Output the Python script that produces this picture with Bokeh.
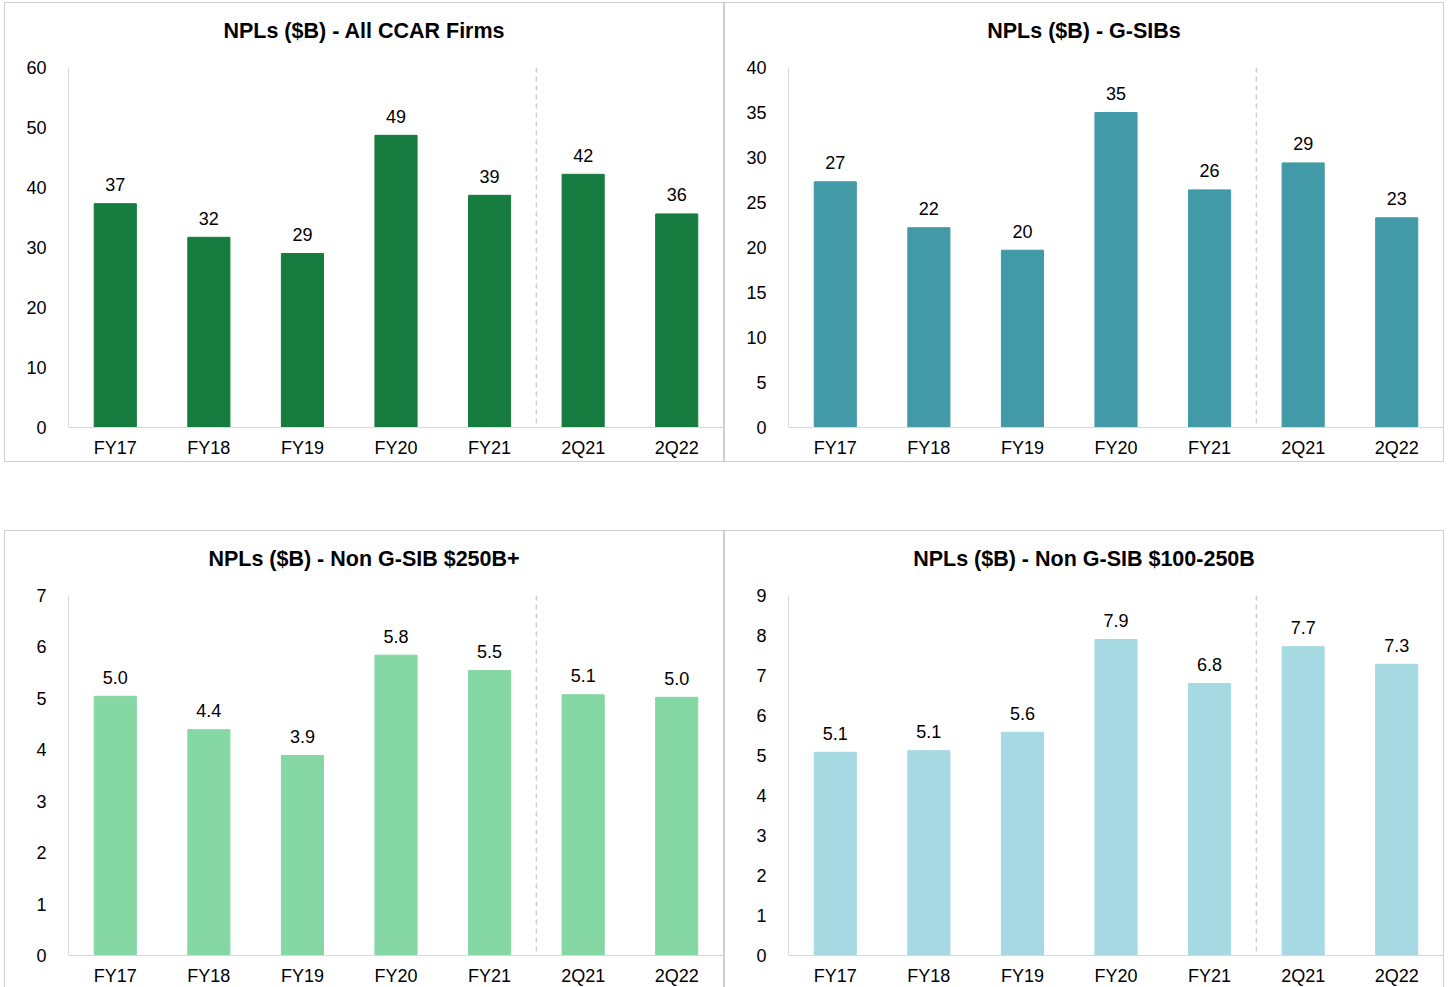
from bokeh.plotting import figure
from bokeh.models import Range1d, FactorRange, FixedTicker, Span, ColumnDataSource, Div
from bokeh.layouts import column, row
from bokeh.core.properties import value
from bokeh.embed import file_html
from bokeh.resources import INLINE

categories = ["FY17", "FY18", "FY19", "FY20", "FY21", "2Q21", "2Q22"]
ccar_values = [37.3, 31.7, 29.0, 48.7, 38.7, 42.2, 35.6]
gsib_values = [27.3, 22.2, 19.7, 35.0, 26.4, 29.4, 23.3]
non_gsib_250_values = [5.04, 4.39, 3.89, 5.84, 5.54, 5.07, 5.02]
non_gsib_100_values = [5.08, 5.12, 5.58, 7.90, 6.80, 7.72, 7.28]
titles = ["NPLs ($B) - All CCAR Firms", "NPLs ($B) - G-SIBs",
          "NPLs ($B) - Non G-SIB $250B+", "NPLs ($B) - Non G-SIB $100-250B"]
y_max = [60, 40, 7, 9]
y_step = [10, 5, 1, 1]
label_formats = ["{:.0f}", "{:.0f}", "{:.1f}", "{:.1f}"]
colors = ["#167B3E", "#4299A8", "#85D7A3", "#A6D9E2"]
split_at = "2Q21"

FONT = value("Liberation Sans")
GRAY = "#d9d9d9"
W, H = 718, 458
TITLE_H = 45
BL, BR, BT, BB = 63, 0, 64 - TITLE_H, 34


def panel(title, vals, ymax, step, fmt, color):
    labels = [fmt.format(v) for v in vals]
    src = ColumnDataSource(dict(cat=categories, val=vals, lab=labels))
    head = Div(text=title, width=W, height=TITLE_H, margin=0,
               styles={"font-family": "'Liberation Sans', Arial, sans-serif",
                       "font-size": "21.5px", "font-weight": "bold",
                       "color": "#000000", "text-align": "center",
                       "line-height": "56px", "white-space": "nowrap",
                       "overflow": "visible"})
    p = figure(x_range=FactorRange(*categories, range_padding=0),
               y_range=Range1d(0, ymax), width=W, height=H - TITLE_H,
               title=None, output_backend="svg", toolbar_location=None,
               min_border_left=BL, min_border_right=BR,
               min_border_top=BT, min_border_bottom=BB, margin=0)
    p.outline_line_color = None
    p.xgrid.grid_line_color = None
    p.ygrid.grid_line_color = None

    p.vbar(x="cat", top="val", width=0.45, color=color, source=src)
    p.text(x="cat", y="val", text="lab", source=src, text_align="center",
           text_baseline="alphabetic", y_offset=-19, text_font=FONT,
           text_font_size="18px", text_color="#000000")
    p.add_layout(Span(location=categories.index(split_at), dimension="height",
                      line_color="#cccccc", line_dash="5 4", line_width=1.5))

    ticks = [i * step for i in range(int(ymax / step) + 1)]
    p.yaxis.ticker = FixedTicker(ticks=ticks)
    for ax in (p.xaxis, p.yaxis):
        ax.axis_line_color = GRAY
        ax.major_tick_line_color = None
        ax.minor_tick_line_color = None
        ax.major_tick_out = 0
        ax.major_tick_in = 0
        ax.minor_tick_out = 0
        ax.major_label_text_font = "Liberation Sans"
        ax.major_label_text_font_size = "18px"
        ax.major_label_text_color = "#000000"
    p.yaxis.major_label_standoff = 22
    p.xaxis.major_label_standoff = 10
    return column(head, p, spacing=0, width=W, height=H,
                  styles={"outline": "1px solid #d0d0d0", "outline-offset": "0px"})


series = [ccar_values, gsib_values, non_gsib_250_values, non_gsib_100_values]
panels = [panel(titles[i], series[i], y_max[i], y_step[i], label_formats[i], colors[i])
          for i in range(4)]

layout = column(row(panels[0], panels[1], spacing=2),
                row(panels[2], panels[3], spacing=2),
                spacing=70,
                styles={"margin-left": "5px", "margin-top": "3px"})

open("out.html", "w").write(file_html(layout, INLINE))
